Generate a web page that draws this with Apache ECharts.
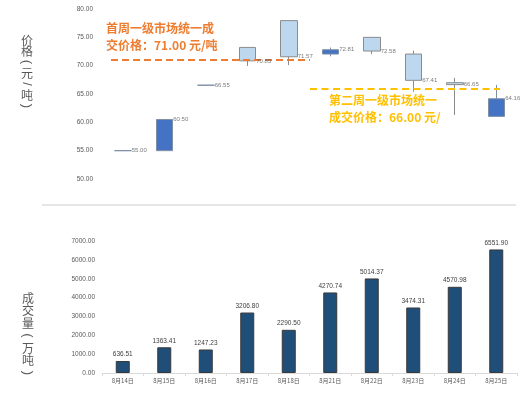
<!DOCTYPE html>
<html>
<head>
<meta charset="utf-8">
<script src="https://cdn.jsdelivr.net/npm/echarts@6/dist/echarts.min.js"></script>
<style>
    html, body { margin: 0; padding: 0; background: #fff; }
    #main { width: 524px; height: 398px; }
</style>
</head>
<body>
<div id="main"></div>
<script>
var dayAry = ['8月14日', '8月15日', '8月16日', '8月17日', '8月18日', '8月21日', '8月22日', '8月23日', '8月24日', '8月25日'];
var openAry = [55.00, 55.00, 66.55, 73.22, 77.95, 72.05, 75.00, 72.05, 67.00, 61.05];
var closeAry = [55.00, 60.50, 66.55, 70.85, 71.57, 72.81, 72.58, 67.41, 66.65, 64.16];
var lowAry = [55.00, 55.00, 66.55, 69.95, 70.10, 71.65, 72.05, 65.40, 61.30, 61.05];
var highAry = [55.00, 60.50, 66.55, 73.22, 77.95, 73.20, 75.00, 72.65, 67.85, 66.60];
var volumeAry = [636.51, 1363.41, 1247.23, 3206.80, 2290.50, 4270.74, 5014.37, 3474.31, 4570.98, 6551.90];
var firstWeekPrice = 71.00;
var secondWeekPrice = 66.00;

var numFont = 'Liberation Sans';
var cjkFont = 'Noto Sans CJK SC';

// candlestick 数据: [open, close, low, high]
var candleData = [];
for (var i = 0; i < dayAry.length; i++) {
    candleData.push([openAry[i], closeAry[i], lowAry[i], highAry[i]]);
}

// 竖排标题：汉字直立，括号和斜杠旋转
function verticalTitle(text, cx, cy, step) {
    var els = [];
    for (var k = 0; k < text.length; k++) {
        var ch = text.charAt(k);
        var turn = '()/'.indexOf(ch) >= 0;
        els.push({
            type: 'text',
            x: cx,
            y: cy + k * step,
            rotation: turn ? -Math.PI / 2 : 0,
            silent: true,
            style: {
                text: ch,
                fontSize: turn ? 13 : 12,
                fill: '#595959',
                fontFamily: turn ? numFont : cjkFont,
                align: 'center',
                verticalAlign: 'middle'
            }
        });
    }
    return els;
}

var graphicAry = [
    {
        type: 'line',
        shape: { x1: 42, y1: 205, x2: 516, y2: 205 },
        style: { stroke: '#E6E6E6', lineWidth: 2 },
        silent: true
    },
    {
        type: 'text',
        left: 106,
        top: 20,
        style: {
            text: '首周一级市场统一成\n交价格：71.00 元/吨',
            fontSize: 12,
            lineHeight: 17,
            fontWeight: 'bold',
            fill: '#ED7D31',
            fontFamily: cjkFont
        }
    },
    {
        type: 'text',
        left: 329,
        top: 92,
        style: {
            text: '第二周一级市场统一\n成交价格：66.00 元/',
            fontSize: 12,
            lineHeight: 17,
            fontWeight: 'bold',
            fill: '#FFC000',
            fontFamily: cjkFont
        }
    }
];
graphicAry = graphicAry.concat(verticalTitle('价格(元/吨)', 27, 40, 11));
graphicAry = graphicAry.concat(verticalTitle('成交量(万吨)', 28, 298, 12.5));

var chartDom = document.getElementById('main');
var myChart = echarts.init(chartDom);
var option = {
    animation: false,
    grid: [
        { left: 102, width: 415, top: 9, height: 170 },
        { left: 102, width: 415, top: 241, height: 132 }
    ],
    xAxis: [
        {
            type: 'category',
            gridIndex: 0,
            data: dayAry,
            show: false
        },
        {
            type: 'category',
            gridIndex: 1,
            data: dayAry,
            boundaryGap: true,
            axisLine: { lineStyle: { color: '#D9D9D9', width: 1 } },
            axisTick: { show: true, length: 3, lineStyle: { color: '#D9D9D9' } },
            axisLabel: { fontSize: 6, color: '#595959', margin: 5, fontFamily: cjkFont }
        }
    ],
    yAxis: [
        {
            type: 'value',
            gridIndex: 0,
            min: 50,
            max: 80,
            interval: 5,
            axisLine: { show: false },
            axisTick: { show: false },
            splitLine: { show: false },
            axisLabel: {
                fontSize: 6.5, color: '#595959', margin: 9, fontFamily: numFont,
                formatter: function (v) { return v.toFixed(2); }
            }
        },
        {
            type: 'value',
            gridIndex: 1,
            min: 0,
            max: 7000,
            interval: 1000,
            axisLine: { show: false },
            axisTick: { show: false },
            splitLine: { show: false },
            axisLabel: {
                fontSize: 6.5, color: '#595959', margin: 7, fontFamily: numFont,
                formatter: function (v) { return v.toFixed(2); }
            }
        }
    ],
    series: [
        {
            type: 'candlestick',
            xAxisIndex: 0,
            yAxisIndex: 0,
            data: candleData,
            barWidth: 17,
            itemStyle: {
                color: '#4472C4',
                color0: '#BDD7EE',
                borderColor: '#7F8FA6',
                borderColor0: '#8C8C8C',
                borderWidth: 1
            },
            markLine: {
                silent: true,
                symbol: ['none', 'none'],
                label: { show: false },
                data: [
                    [
                        { x: 111, yAxis: firstWeekPrice, lineStyle: { color: '#ED7D31', width: 2, type: [7, 4] } },
                        { x: 310, yAxis: firstWeekPrice }
                    ],
                    [
                        { x: 310, yAxis: secondWeekPrice, lineStyle: { color: '#FFC000', width: 2, type: [7, 4.5] } },
                        { x: 500, yAxis: secondWeekPrice }
                    ]
                ]
            }
        },
        {
            // 收盘价数据标签
            type: 'scatter',
            xAxisIndex: 0,
            yAxisIndex: 0,
            data: closeAry,
            symbolSize: 0,
            silent: true,
            label: {
                show: true,
                position: 'right',
                distance: 9,
                fontSize: 6,
                color: '#595959',
                fontFamily: numFont,
                formatter: function (p) { return p.value.toFixed(2); }
            },
            z: 5
        },
        {
            type: 'bar',
            xAxisIndex: 1,
            yAxisIndex: 1,
            data: volumeAry,
            barWidth: 14,
            itemStyle: {
                color: '#1F4E79',
                borderColor: '#3A3A3A',
                borderWidth: 1
            },
            label: {
                show: true,
                position: 'top',
                distance: 3,
                fontSize: 6.5,
                color: '#404040',
                fontFamily: numFont,
                formatter: function (p) { return p.value.toFixed(2); }
            }
        }
    ],
    graphic: graphicAry
};

// 使用刚指定的配置项和数据显示图表。
myChart.setOption(option);
</script>
</body>
</html>
